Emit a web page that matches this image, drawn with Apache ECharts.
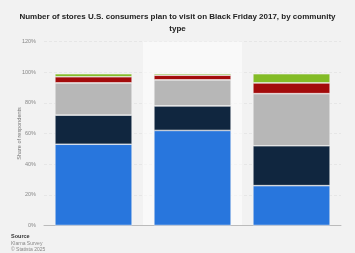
<!DOCTYPE html>
<html><head><meta charset="utf-8">
<script src="https://cdn.jsdelivr.net/npm/echarts@6/dist/echarts.min.js"></script>
<style>html,body{margin:0;padding:0;background:#f2f2f2}#c{width:355px;height:253px}</style>
</head><body><div id="c"></div>
<script>
const categories = ['Urban', 'Suburban', 'Rural'];
const oneStore = [53, 62, 26];
const twoStores = [19, 16, 26];
const threeStores = [21, 17, 34];
const fourStores = [4, 3, 7];
const fivePlus = [2, 1, 6];
const yTicks = [0, 20, 40, 60, 80, 100, 120];

const colors = ['#2876dd', '#10263f', '#b7b7b7', '#a30b0b', '#83bc26'];
const names = ['1 store', '2 stores', '3-4 stores', '5-6 stores', '7+ stores'];
const datas = [oneStore, twoStores, threeStores, fourStores, fivePlus];

const series = datas.map((d, i) => ({
  name: names[i], type: 'bar', stack: 'total', data: d, barWidth: '78%',
  itemStyle: { color: colors[i], borderColor: '#f2f2f2', borderWidth: 0.6 },
  z: 3
}));
series[0].markArea = {
  silent: true,
  itemStyle: { color: 'rgba(255,255,255,0.55)' },
  data: [[{ xAxis: 'Suburban', yAxis: 0 }, { xAxis: 'Suburban', yAxis: 120 }]],
  z: 0
};

const chart = echarts.init(document.getElementById('c'));
chart.setOption({
  backgroundColor: '#f2f2f2',
  animation: false,
  title: {
    text: 'Number of stores U.S. consumers plan to visit on Black Friday 2017, by community\ntype',
    left: 'center', top: 6,
    textStyle: { fontFamily: 'Liberation Sans, Arial', fontSize: 8, fontWeight: 'bold', color: '#222', lineHeight: 12 }
  },
  graphic: [
    { type: 'text', left: 11, top: 233, style: { text: 'Source', fontFamily: 'Liberation Sans', fontSize: 5.5, fill: '#333', fontWeight: 'bold' } },
    { type: 'text', left: 11, top: 240, style: { text: 'Klarna Survey\n© Statista 2025', fontFamily: 'Liberation Sans', fontSize: 5, fill: '#888', lineHeight: 6.5 } }
  ],
  grid: { left: 44, right: 14, top: 41.5, bottom: 27.5 },
  xAxis: {
    type: 'category', data: categories,
    axisLine: { lineStyle: { color: '#bbbbbb', width: 1 } },
    axisTick: { show: false }, axisLabel: { show: false }
  },
  yAxis: {
    type: 'value', min: yTicks[0], max: yTicks[yTicks.length - 1], interval: 20,
    name: 'Share of respondents', nameLocation: 'middle', nameGap: 22, nameMoveOverlap: false,
    nameTextStyle: { fontFamily: 'Liberation Sans', fontSize: 5.5, color: '#777' },
    axisLabel: { formatter: '{value}%', fontFamily: 'Liberation Sans', fontSize: 5.5, color: '#888', margin: 8 },
    axisLine: { show: false }, axisTick: { show: false },
    splitLine: { lineStyle: { color: '#dddddd', type: [3, 2], width: 0.6 } }
  },
  series: series
});
</script></body></html>
